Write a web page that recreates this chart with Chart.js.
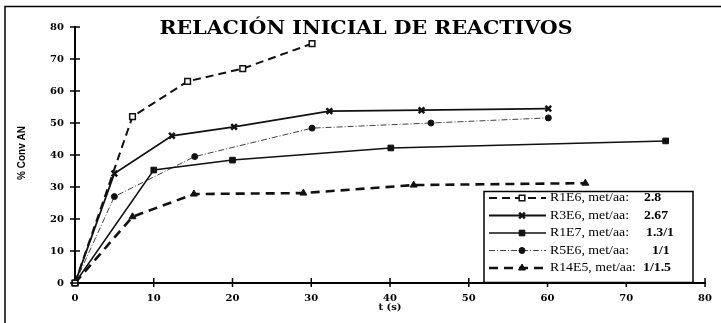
<!DOCTYPE html>
<html><head><meta charset="utf-8">
<script src="https://cdn.jsdelivr.net/npm/chart.js@4"></script>
<style>html,body{margin:0;padding:0;background:#fff}#w{width:721px;height:323px}</style>
</head><body><div id="w"><canvas id="c"></canvas></div>
<script>
const chartTitle = 'RELACIÓN INICIAL DE REACTIVOS';
const xTitle = 't (s)';
const yTitle = '% Conv AN';
const xTicks = [0,10,20,30,40,50,60,70,80];
const yTicks = [0,10,20,30,40,50,60,70,80];

const r1e6T = [0, 7.3, 14.3, 21.3, 30.1];
const r1e6V = [0, 52, 63, 67, 74.8];
const r3e6T = [0, 5, 12.3, 20.2, 32.3, 44, 60.1];
const r3e6V = [0, 34.2, 46, 48.8, 53.7, 54, 54.5];
const r1e7T = [0, 10, 20, 40.1, 75];
const r1e7V = [0, 35.3, 38.4, 42.2, 44.4];
const r5e6T = [0, 5, 15.2, 30.1, 45.2, 60.1];
const r5e6V = [0, 27, 39.5, 48.4, 50, 51.6];
const r14e5T = [0, 7.3, 15.1, 29, 43, 64.8];
const r14e5V = [0, 20.7, 27.8, 28.1, 30.6, 31.2];

const legendNames = ['R1E6, met/aa:', 'R3E6, met/aa:', 'R1E7, met/aa:', 'R5E6, met/aa:', 'R14E5, met/aa:'];
const legendRatios = ['2.8', '2.67', '1.3/1', '1/1', '1/1.5'];

const pts = (t, v) => t.map((x, i) => ({x, y: v[i]}));
const K = '#111';
const datasets = [
  {label: legendNames[0], data: pts(r1e6T, r1e6V), borderColor: K, borderWidth: 2, borderDash: [8,5],
   pointStyle: 'rect', pointRadius: 4, pointBackgroundColor: '#fff', pointBorderColor: K, pointBorderWidth: 1.5},
  {label: legendNames[1], data: pts(r3e6T, r3e6V), borderColor: K, borderWidth: 1.8, borderDash: [],
   pointStyle: 'crossRot', pointRadius: 4, pointBackgroundColor: K, pointBorderColor: K, pointBorderWidth: 2.5},
  {label: legendNames[2], data: pts(r1e7T, r1e7V), borderColor: K, borderWidth: 1.5, borderDash: [],
   pointStyle: 'rect', pointRadius: 4, pointBackgroundColor: K, pointBorderColor: K, pointBorderWidth: 1},
  {label: legendNames[3], data: pts(r5e6T, r5e6V), borderColor: K, borderWidth: 0.8, borderDash: [6,2,1,2],
   pointStyle: 'circle', pointRadius: 3, pointBackgroundColor: K, pointBorderColor: K, pointBorderWidth: 1},
  {label: legendNames[4], data: pts(r14e5T, r14e5V), borderColor: K, borderWidth: 2.6, borderDash: [9,6],
   pointStyle: 'triangle', pointRadius: 4, pointBackgroundColor: K, pointBorderColor: K, pointBorderWidth: 1}
];
datasets.forEach(d => { d.fill = false; d.tension = 0; d.clip = false; });

function fitText(ctx, text, x, y, targetW) {
  const w = ctx.measureText(text).width;
  const s = targetW / w;
  ctx.save(); ctx.translate(x, y); ctx.scale(s, 1); ctx.fillText(text, 0, 0); ctx.restore();
}

const deco = {
  id: 'deco',
  afterDraw(chart) {
    const ctx = chart.ctx, xs = chart.scales.x, ys = chart.scales.y;
    ctx.save();
    ctx.strokeStyle = '#000'; ctx.lineWidth = 1.5;
    ctx.beginPath(); ctx.moveTo(5, 323); ctx.lineTo(5, 6.5); ctx.lineTo(721, 6.5); ctx.stroke();
    ctx.lineWidth = 1.5;
    const y0 = ys.getPixelForValue(0), x0 = xs.getPixelForValue(0);
    ctx.beginPath();
    yTicks.forEach(v => { const p = ys.getPixelForValue(v); ctx.moveTo(x0 - 5, p); ctx.lineTo(x0 + 5, p); });
    xTicks.forEach(v => { if (v === 0) return; const p = xs.getPixelForValue(v); ctx.moveTo(p, y0 - 5); ctx.lineTo(p, y0 + 4); });
    ctx.stroke();
    // title
    ctx.fillStyle = '#000';
    ctx.font = 'bold 18px "DejaVu Serif", "Liberation Serif", serif';
    ctx.textAlign = 'center'; ctx.textBaseline = 'middle';
    fitText(ctx, chartTitle, 366, 29.5, 413);
    // axis titles
    ctx.font = 'bold 10px "DejaVu Serif", serif';
    ctx.fillText(xTitle, 390, 307);
    ctx.save();
    ctx.translate(22, 153); ctx.rotate(-Math.PI / 2);
    ctx.font = 'bold 10px "Liberation Sans", "DejaVu Sans", sans-serif';
    ctx.fillText(yTitle, 0, 0);
    ctx.restore();
    // legend
    const bx = 484, by = 191.5, bw = 209, bh = 91;
    ctx.fillStyle = '#fff'; ctx.fillRect(bx, by, bw, bh);
    ctx.strokeStyle = '#000'; ctx.lineWidth = 1.5; ctx.strokeRect(bx, by, bw, bh);
    const rows = [198, 215.5, 233, 250.5, 268];
    ctx.font = '12px "Liberation Serif", serif';
    const sc = 79 / ctx.measureText(legendNames[0]).width;
    chart.data.datasets.forEach((d, i) => {
      const y = rows[i];
      ctx.save();
      ctx.strokeStyle = d.borderColor; ctx.lineWidth = d.borderWidth; ctx.setLineDash(d.borderDash);
      ctx.beginPath(); ctx.moveTo(489, y); ctx.lineTo(546, y); ctx.stroke();
      ctx.setLineDash([]);
      ctx.fillStyle = d.pointBackgroundColor; ctx.strokeStyle = d.pointBorderColor; ctx.lineWidth = d.pointBorderWidth;
      Chart.helpers.drawPoint(ctx, {pointStyle: d.pointStyle, radius: d.pointRadius, borderWidth: d.pointBorderWidth, rotation: 0}, 522, y);
      ctx.restore();
      ctx.fillStyle = '#000'; ctx.textAlign = 'left'; ctx.textBaseline = 'middle';
      ctx.font = '12px "Liberation Serif", serif';
      ctx.save(); ctx.translate(550, y); ctx.scale(sc, 1); ctx.fillText(d.label, 0, 0); ctx.restore();
      ctx.font = 'bold 12px "Liberation Serif", serif';
      const rx = [644, 644, 646, 652, 643][i];
      ctx.save(); ctx.translate(rx, y); ctx.scale(sc, 1); ctx.fillText(legendRatios[i], 0, 0); ctx.restore();
    });
    ctx.restore();
  }
};

const tickFont = {family: '"DejaVu Serif", serif', weight: 'bold', size: 10};
new Chart(document.getElementById('c'), {
  type: 'line',
  data: {datasets},
  plugins: [deco],
  options: {
    responsive: true, maintainAspectRatio: false, animation: false,
    layout: {padding: {left: 0, top: 27, right: 13, bottom: 0}},
    plugins: {legend: {display: false}, title: {display: false}, tooltip: {enabled: false}},
    scales: {
      x: {type: 'linear', min: 0, max: 80,
        afterFit: s => { s.height = 40; },
        afterBuildTicks: s => { s.ticks = xTicks.map(v => ({value: v})); },
        grid: {display: false, drawTicks: false},
        border: {display: true, color: '#000', width: 2},
        ticks: {padding: 9, color: '#000', font: tickFont, maxRotation: 0}},
      y: {type: 'linear', min: 0, max: 80,
        afterFit: s => { s.width = 75; },
        afterBuildTicks: s => { s.ticks = yTicks.map(v => ({value: v})); },
        grid: {display: false, drawTicks: false},
        border: {display: true, color: '#000', width: 2},
        ticks: {padding: 11, color: '#000', font: tickFont}}
    }
  }
});
</script></body></html>
